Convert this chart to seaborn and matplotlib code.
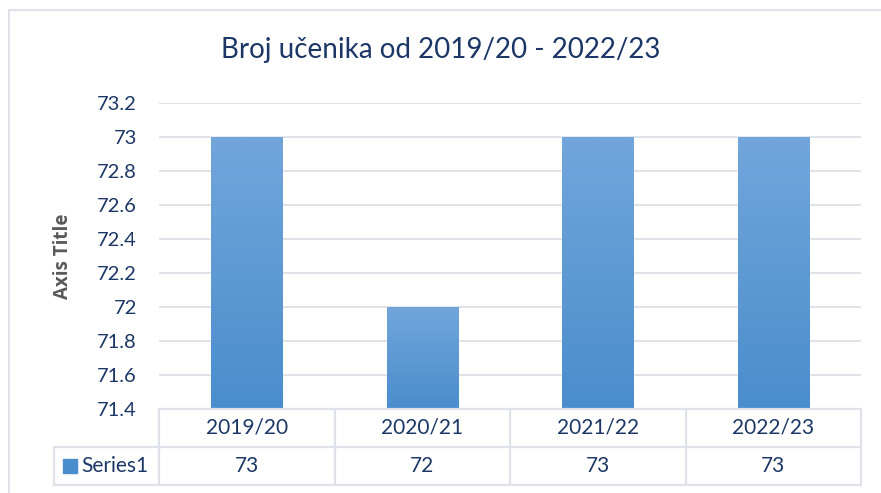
import numpy as np
import pandas as pd
import seaborn as sns
import matplotlib.pyplot as plt
from matplotlib.colors import LinearSegmentedColormap
from matplotlib.lines import Line2D
from matplotlib.patches import Rectangle

# =========================
# Data
# =========================
years = ["2019/20", "2020/21", "2021/22", "2022/23"]
students = [73, 72, 73, 73]
series_name = "Series1"
y_ticks = [71.4, 71.6, 71.8, 72.0, 72.2, 72.4, 72.6, 72.8, 73.0, 73.2]

TITLE = "Broj učenika od 2019/20 - 2022/23"
NAVY = "#1c3766"
GRID = "#dfe2e8"
TOP_BLUE = "#72a6db"
BOTTOM_BLUE = "#4a8dcd"


def tick_fmt(v):
    s = f"{v:.1f}"
    return s[:-2] if s.endswith(".0") else s


def main():
    sns.set_theme(style="white")
    plt.rcParams["font.family"] = ["Lato", "DejaVu Sans"]

    df = pd.DataFrame({"year": years, "value": students})

    fig = plt.figure(figsize=(8.81, 4.93), dpi=100)
    ax = fig.add_axes([159 / 881, 1 - 409 / 493, 702 / 881, 306 / 493])

    sns.barplot(data=df, x="year", y="value", color=BOTTOM_BLUE, width=0.405,
                ax=ax, zorder=3, saturation=1)

    # gradient fill on each bar
    cmap = LinearSegmentedColormap.from_list("bar", [BOTTOM_BLUE, TOP_BLUE])
    grad = np.linspace(0, 1, 256).reshape(-1, 1)
    for p in ax.patches:
        x0, y0 = p.get_x(), 71.4
        x1, y1 = p.get_x() + p.get_width(), p.get_height()
        im = ax.imshow(grad, cmap=cmap, origin="lower", aspect="auto",
                       extent=[x0, x1, y0, y1], zorder=4)
        im.set_clip_path(p)
    ax.set_xlim(-0.5, len(years) - 0.5)
    ax.set_ylim(71.4, 73.2)

    # grid & spines
    ax.set_yticks(y_ticks)
    ax.set_yticklabels([tick_fmt(v) for v in y_ticks])
    for v in y_ticks[1:]:
        ax.axhline(v, color=GRID, lw=1.4, zorder=1)
    for s in ax.spines.values():
        s.set_visible(False)
    ax.tick_params(axis="y", length=0, pad=16, labelsize=14.5, labelcolor=NAVY)
    ax.set_xticks([])
    ax.set_xlabel("")
    ax.set_ylabel("Axis Title", fontsize=13.5, fontweight="bold", color="#595959",
                  family=["Open Sans", "DejaVu Sans"], labelpad=17)

    fig.text(441 / 881, 1 - 50 / 493, TITLE, fontsize=20, color=NAVY,
             ha="center", va="center")

    # data table below the plot area
    h = 38 / 306
    left = -105 / 702
    tkw = dict(color=GRID, lw=1.6, clip_on=False, zorder=5)
    xt = ax.get_xaxis_transform()
    ax.add_line(Line2D([-0.5, 3.5], [0, 0], transform=xt, **tkw))
    ax.add_line(Line2D([left, 1], [-h, -h], transform=ax.transAxes, **tkw))
    ax.add_line(Line2D([left, 1], [-2 * h, -2 * h], transform=ax.transAxes, **tkw))
    ax.add_line(Line2D([left, left], [-h, -2 * h], transform=ax.transAxes, **tkw))
    for b in np.arange(-0.5, len(years)):
        ax.add_line(Line2D([b, b], [0, -2 * h], transform=xt, **tkw))

    for i, (yr, val) in enumerate(zip(years, students)):
        ax.text(i, -h / 2, yr, transform=xt, ha="center", va="center",
                fontsize=15, color=NAVY)
        ax.text(i, -1.5 * h, str(val), transform=xt, ha="center", va="center",
                fontsize=15, color=NAVY)

    ax.add_patch(Rectangle((-96 / 702, -1.5 * h - 7 / 306), 14 / 702, 14 / 306,
                           transform=ax.transAxes, color=BOTTOM_BLUE,
                           clip_on=False, zorder=5))
    ax.text(-78 / 702, -1.5 * h, series_name, transform=ax.transAxes,
            ha="left", va="center", fontsize=15, color=NAVY)

    # chart area border (left and top visible)
    fig.add_artist(Line2D([9 / 881, 9 / 881], [0, 1 - 10 / 493],
                          transform=fig.transFigure, color=GRID, lw=1.5))
    fig.add_artist(Line2D([9 / 881, 1], [1 - 10 / 493, 1 - 10 / 493],
                          transform=fig.transFigure, color=GRID, lw=1.5))

    fig.savefig("out.png", dpi=100)
    plt.close(fig)


if __name__ == "__main__":
    main()
